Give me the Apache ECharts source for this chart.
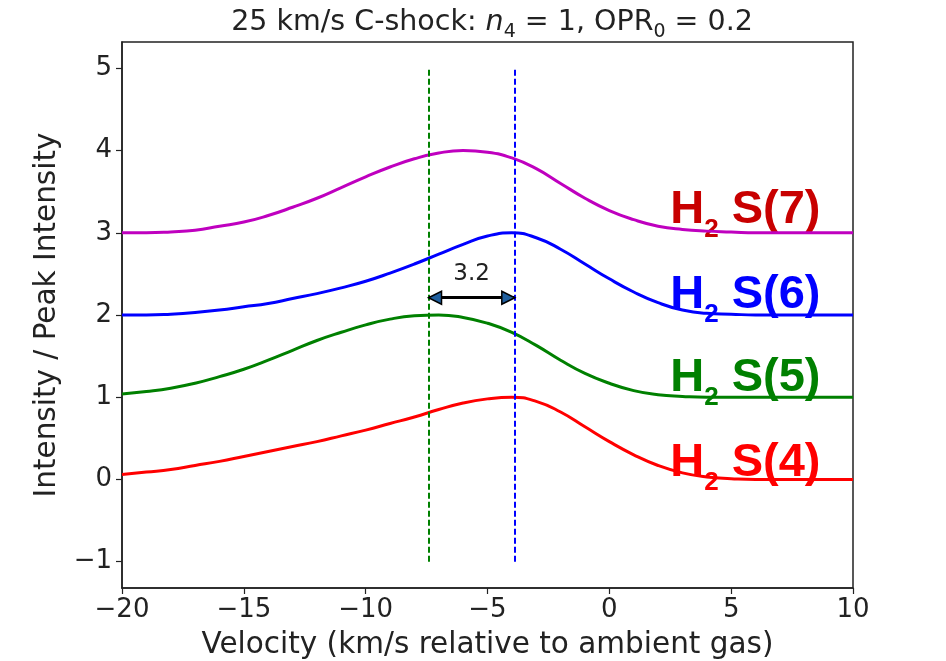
<!DOCTYPE html>
<html>
<head>
<meta charset="utf-8">
<script src="https://cdn.jsdelivr.net/npm/echarts@6/dist/echarts.min.js"></script>
<style>
html,body{margin:0;padding:0;background:#fff;}
#chart{width:946px;height:661px;}
</style>
</head>
<body>
<div id="chart"></div>
<script>
// ---- data ----
const velocity = [-20,-19,-18,-17,-16,-15,-14,-13,-12,-11,-10,-9,-8,-7,-6,-5,-4,-3,-2,-1,0,1,2,3,4,5,6,7,8,9,10];
const s4 = [0.06,0.09,0.12,0.17,0.22,0.28,0.34,0.40,0.46,0.53,0.60,0.68,0.76,0.85,0.93,0.98,1.00,0.95,0.82,0.64,0.46,0.30,0.17,0.08,0.03,0.01,0.00,0.00,0.00,0.00,0.00];
const s5 = [1.04,1.07,1.11,1.17,1.25,1.34,1.45,1.57,1.69,1.79,1.88,1.95,1.99,2.00,1.97,1.90,1.79,1.63,1.45,1.29,1.17,1.08,1.03,1.01,1.00,1.00,1.00,1.00,1.00,1.00,1.00];
const s6 = [2.00,2.00,2.01,2.03,2.06,2.10,2.14,2.20,2.26,2.33,2.41,2.51,2.62,2.74,2.86,2.96,3.00,2.94,2.80,2.62,2.44,2.28,2.15,2.06,2.02,2.01,2.00,2.00,2.00,2.00,2.00];
const s7 = [3.00,3.00,3.01,3.03,3.08,3.13,3.21,3.31,3.42,3.55,3.68,3.80,3.90,3.97,4.00,3.98,3.91,3.78,3.60,3.42,3.27,3.16,3.08,3.04,3.02,3.01,3.00,3.00,3.00,3.00,3.00];
const xTicks = [-20,-15,-10,-5,0,5,10];
const yTicks = [-1,0,1,2,3,4,5];
const lineNames = ['S(4)','S(5)','S(6)','S(7)'];
const peakLines = [-7.4, -3.9];          // dashed reference velocities
const peakLineSpan = [-1, 5];
const arrowY = 2.21;
const arrowText = '3.2';
const labelAnchors = [[2.5,0.0],[2.5,1.03],[2.5,2.04],[2.5,3.07]];

const lineColors = ['#ff0000','#008000','#0000ff','#bf00bf'];
const labelColors = ['#ff0000','#008000','#0000ff','#c80000'];
const allSeries = [s4,s5,s6,s7];

const minus = v => String(v).replace('-', '\u2212');
const FONT = 'DejaVu Sans';

const chart = echarts.init(document.getElementById('chart'), null, {renderer:'canvas'});

const series = [];
// labels (drawn under the curves)
series.push({
  type:'scatter', z:1, symbolSize:0, silent:true,
  itemStyle:{opacity:1},
  data: labelAnchors.map((p,i)=>({
    value:p,
    label:{
      show:true, position:[0,0], align:'left', verticalAlign:'bottom', offset:[0,16],
      formatter:'{b|H}{s|2}{b| ' + lineNames[i] + '}',
      rich:{
        b:{fontFamily:'Liberation Sans', fontWeight:'bold', fontSize:47, lineHeight:47, color:labelColors[i], verticalAlign:'bottom', padding:[0,0,9,0]},
        s:{fontFamily:'Liberation Sans', fontWeight:'bold', fontSize:26, lineHeight:26, color:labelColors[i], verticalAlign:'bottom'}
      }
    }
  }))
});
allSeries.forEach((arr,i)=>{
  series.push({
    type:'line', z:3, smooth:0.5, showSymbol:false, silent:true,
    data: velocity.map((v,k)=>[v,arr[k]]),
    lineStyle:{color:lineColors[i], width:3},
    itemStyle:{color:lineColors[i]}
  });
});
// dashed vertical lines + arrow
series.push({
  type:'line', z:4, data:[], silent:true,
  markLine:{
    silent:true, symbol:['none','none'], animation:false,
    label:{show:false},
    data:[
      [{coord:[peakLines[0],peakLineSpan[0]], lineStyle:{color:'#008000',width:2,type:[6,3]}},{coord:[peakLines[0],peakLineSpan[1]]}],
      [{coord:[peakLines[1],peakLineSpan[0]], lineStyle:{color:'#0000ff',width:2,type:[6,3]}},{coord:[peakLines[1],peakLineSpan[1]]}],
      [{coord:[peakLines[0],arrowY], lineStyle:{color:'#000',width:3,type:'solid'}},{coord:[peakLines[1],arrowY]}]
    ]
  }
});
series.push({
  type:'scatter', z:5, silent:true, symbol:'triangle', symbolSize:[13,13],
  itemStyle:{color:'#1f5f9f', borderColor:'#000', borderWidth:1.5, opacity:1},
  data:[
    {value:[peakLines[0],arrowY], symbolRotate:90, symbolOffset:[6,0]},
    {value:[peakLines[1],arrowY], symbolRotate:-90, symbolOffset:[-6,0]}
  ]
});
// arrow text
series.push({
  type:'scatter', z:5, silent:true, symbolSize:0,
  itemStyle:{opacity:1},
  data:[{value:[(peakLines[0]+peakLines[1])/2, arrowY]}],
  label:{show:true, position:'top', distance:12, formatter:arrowText, fontFamily:FONT, fontSize:23, color:'#222'}
});

chart.setOption({
  animation:false,
  backgroundColor:'#fff',
  title:{
    left:487, textAlign:'center', top:3,
    text:'{t|25 km/s C-shock: }{i|n}{s|4}{t| = 1, OPR}{s|0}{t| = 0.2}',
    textStyle:{
      fontWeight:'normal',
      rich:{
        t:{fontFamily:FONT, fontSize:28.5, fontWeight:'normal', color:'#222', verticalAlign:'bottom', padding:[0,0,5,0]},
        i:{fontFamily:FONT, fontSize:28.5, fontWeight:'normal', fontStyle:'italic', color:'#222', verticalAlign:'bottom', padding:[0,0,5,0]},
        s:{fontFamily:FONT, fontSize:19, fontWeight:'normal', color:'#222', verticalAlign:'bottom'}
      }
    }
  },
  grid:{left:122, right:93, top:42, bottom:73, show:true, borderColor:'#222', borderWidth:1.5, backgroundColor:'transparent', outerBoundsMode:'none', containLabel:false},
  xAxis:{
    type:'value', min:-20, max:10, interval:5,
    name:'Velocity (km/s relative to ambient gas)', nameLocation:'middle', nameGap:42,
    nameTextStyle:{fontFamily:FONT, fontSize:29.5, color:'#222'},
    axisLine:{show:true, onZero:false, lineStyle:{color:'#222', width:1.5}},
    axisTick:{show:true, inside:false, length:6, customValues:xTicks, lineStyle:{color:'#222', width:1.2}},
    axisLabel:{fontFamily:FONT, fontSize:26, color:'#222', margin:9, customValues:xTicks, formatter:minus},
    splitLine:{show:false}
  },
  yAxis:{
    type:'value', min:-1.32, max:5.32,
    name:'Intensity / Peak Intensity', nameLocation:'middle', nameGap:60,
    nameTextStyle:{fontFamily:FONT, fontSize:29.5, color:'#222'},
    axisLine:{show:true, onZero:false, lineStyle:{color:'#222', width:1.5}},
    axisTick:{show:true, inside:false, length:6, customValues:yTicks, lineStyle:{color:'#222', width:1.2}},
    axisLabel:{fontFamily:FONT, fontSize:26, color:'#222', margin:10, customValues:yTicks, formatter:minus},
    splitLine:{show:false}
  },
  series: series
});
</script>
</body>
</html>
